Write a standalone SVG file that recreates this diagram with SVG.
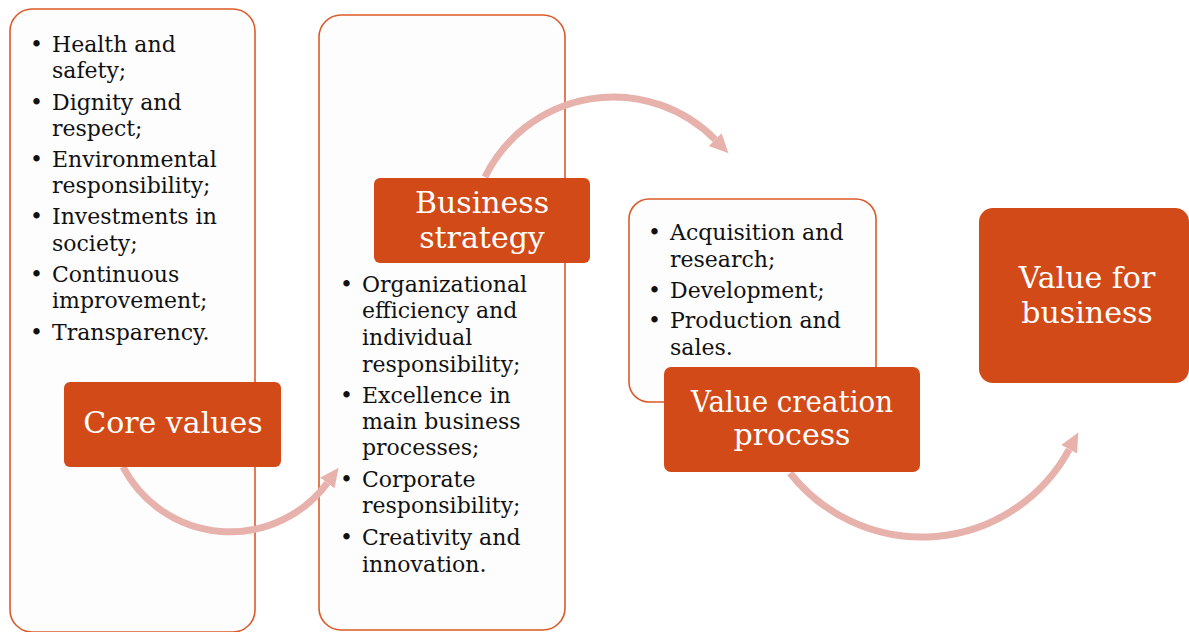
<svg xmlns="http://www.w3.org/2000/svg" width="1189" height="632" viewBox="0 0 1189 632">
  <style>
    .panel { fill: #fdfdfd; stroke: #dc5a2a; stroke-width: 1.6; }
    .tag { fill: #d24a18; }
    .tag-text { font-family: "DejaVu Serif", "Liberation Serif", serif; font-size: 30px; fill: #ffffff; text-anchor: middle; }
    .item { font-family: "DejaVu Serif", "Liberation Serif", serif; font-size: 22px; fill: #111111; }
    .flow { fill: none; stroke: #e8b2ac; stroke-width: 7; }
  </style>
  <defs>
    <marker id="head" markerUnits="userSpaceOnUse" markerWidth="22" markerHeight="22" viewBox="0 0 22 22" refX="0" refY="11" orient="auto">
      <path d="M0,2 L19,11 L0,20 Z" fill="#e8b2ac"/>
    </marker>
  </defs>

  <!-- list panels -->
  <g id="core-values-list">
    <rect class="panel" x="10" y="9" width="245" height="623" rx="22"/>
    <g class="item">
      <text x="30" y="52">•</text><text x="52" y="52">Health and</text>
      <text x="52" y="78">safety;</text>
      <text x="30" y="110">•</text><text x="52" y="110">Dignity and</text>
      <text x="52" y="136">respect;</text>
      <text x="30" y="167">•</text><text x="52" y="167">Environmental</text>
      <text x="52" y="193">responsibility;</text>
      <text x="30" y="224">•</text><text x="52" y="224">Investments in</text>
      <text x="52" y="251">society;</text>
      <text x="30" y="282">•</text><text x="52" y="282">Continuous</text>
      <text x="52" y="308">improvement;</text>
      <text x="30" y="340">•</text><text x="52" y="340">Transparency.</text>
    </g>
  </g>

  <g id="business-strategy-list">
    <rect class="panel" x="319" y="15" width="246" height="615" rx="22"/>
    <g class="item">
      <text x="340" y="292">•</text><text x="362" y="292">Organizational</text>
      <text x="362" y="318">efficiency and</text>
      <text x="362" y="345">individual</text>
      <text x="362" y="372">responsibility;</text>
      <text x="340" y="403">•</text><text x="362" y="403">Excellence in</text>
      <text x="362" y="429">main business</text>
      <text x="362" y="455">processes;</text>
      <text x="340" y="487">•</text><text x="362" y="487">Corporate</text>
      <text x="362" y="513">responsibility;</text>
      <text x="340" y="545">•</text><text x="362" y="545">Creativity and</text>
      <text x="362" y="572">innovation.</text>
    </g>
  </g>

  <g id="value-creation-list">
    <rect class="panel" x="629" y="199" width="247" height="203" rx="20"/>
    <g class="item">
      <text x="648" y="240">•</text><text x="670" y="240">Acquisition and</text>
      <text x="670" y="267">research;</text>
      <text x="648" y="298">•</text><text x="670" y="298">Development;</text>
      <text x="648" y="328">•</text><text x="670" y="328">Production and</text>
      <text x="670" y="355">sales.</text>
    </g>
  </g>

  <!-- curved flow arrows -->
  <g id="connectors">
    <path class="flow" d="M123,467 A121,121 0 0 0 327.3,483" marker-end="url(#head)"/>
    <path class="flow" d="M485,177 A143,143 0 0 1 715.2,139.6" marker-end="url(#head)"/>
    <path class="flow" d="M790,473 A167.7,167.7 0 0 0 1069.2,449.3" marker-end="url(#head)"/>
  </g>

  <!-- stage labels -->
  <g id="core-values">
    <rect class="tag" x="64" y="382" width="217" height="85" rx="6"/>
    <text class="tag-text" x="173" y="433">Core values</text>
  </g>

  <g id="business-strategy">
    <rect class="tag" x="374" y="178" width="216" height="85" rx="6"/>
    <text class="tag-text" x="482" y="213">Business</text>
    <text class="tag-text" x="482" y="248">strategy</text>
  </g>

  <g id="value-creation-process">
    <rect class="tag" x="664" y="367" width="256" height="105" rx="7"/>
    <text class="tag-text" x="792" y="412" textLength="202" lengthAdjust="spacingAndGlyphs">Value creation</text>
    <text class="tag-text" x="792" y="445">process</text>
  </g>

  <g id="value-for-business">
    <rect class="tag" x="979" y="208" width="210" height="175" rx="14"/>
    <text class="tag-text" x="1087" y="288">Value for</text>
    <text class="tag-text" x="1087" y="323">business</text>
  </g>
</svg>
